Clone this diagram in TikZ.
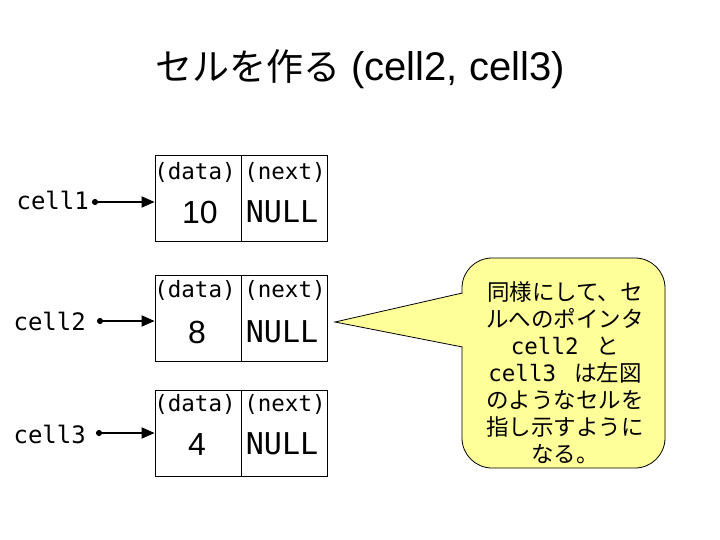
\documentclass[tikz,border=0pt]{standalone}
\usepackage{fontspec}
\setmainfont{Liberation Sans}
\newfontfamily\jp{Noto Sans CJK JP}
\newfontfamily\mono{DejaVu Sans Mono}
\usetikzlibrary{arrows.meta}
\definecolor{calloutfill}{RGB}{255,255,153}
\begin{document}
\begin{tikzpicture}[x=1pt,y=-1pt,
  half/.style={draw, minimum width=86pt, minimum height=86pt, inner sep=0pt, line width=0.8pt},
  small/.style={font=\mono\fontsize{22.5}{22.5}\selectfont, inner sep=0pt},
  val/.style={font=\fontsize{32}{32}\selectfont, inner sep=0pt},
  nullt/.style={font=\mono\fontsize{30}{30}\selectfont, inner sep=0pt},
  ptrlabel/.style={font=\mono\fontsize{24}{24}\selectfont, inner sep=0pt},
  arr/.style={line width=1.8pt, {Circle[length=6pt]}-{Triangle[length=13pt,width=11pt]}},
  calloutbox/.style={draw, fill=calloutfill, rounded corners=30pt, line width=0.8pt,
    minimum width=203pt, minimum height=210pt, inner sep=0pt},
  callouttext/.style={align=center, font=\jp\fontsize{22.5}{27}\selectfont, inner sep=0pt}
]
\useasboundingbox (0,0) rectangle (720,540);
\fill[white] (0,0) rectangle (720,540);

% title
\node[font=\fontsize{40}{40}\selectfont] (title) at (360,69) {{\jp\fontsize{37}{37}\selectfont セルを作る} (cell2, cell3)};

% cells
\node[half] (d1) at (198,198) {};
\node[half] (n1) at (284,198) {};
\node[half] (d2) at (198,318) {};
\node[half] (n2) at (284,318) {};
\node[half] (d3) at (198,433) {};
\node[half] (n3) at (284,433) {};

\node[small] (dl1) at (195,172) {(data)};
\node[small] (nl1) at (285,172) {(next)};
\node[val] (v1) at (200,212) {10};
\node[nullt] (nu1) at (282,212) {NULL};

\node[small] (dl2) at (195,290) {(data)};
\node[small] (nl2) at (285,290) {(next)};
\node[val] (v2) at (197,332) {8};
\node[nullt] (nu2) at (282,332) {NULL};

\node[small] (dl3) at (195,404) {(data)};
\node[small] (nl3) at (285,404) {(next)};
\node[val] (v3) at (197,444) {4};
\node[nullt] (nu3) at (282,444) {NULL};

% pointers
\node[ptrlabel, anchor=east] (c1) at (89,200) {cell1};
\node[ptrlabel, anchor=east] (c2) at (86,321) {cell2};
\node[ptrlabel, anchor=east] (c3) at (86,434) {cell3};
\coordinate (p1) at (92,202);
\coordinate (p2) at (97,321);
\coordinate (p3) at (96,433);
\draw[arr] (p1) -- (p1 -| d1.west);
\draw[arr] (p2) -- (p2 -| d2.west);
\draw[arr] (p3) -- (p3 -| d3.west);

% callout
\node[calloutbox] (cb) at (563.5,363) {};
\coordinate (tip) at (335,322);
\coordinate (ca) at (462.4,293);
\coordinate (cc) at (462.4,347);
\fill[calloutfill] (tip) -- (464,293) -- (464,347) -- cycle;
\draw[line width=0.8pt] (ca) -- (tip) -- (cc);
\node[callouttext] (ct) at (565,373) {同様にして、セ\\ルへのポインタ\\{\mono cell2}\hspace{0.8em}と\\{\mono cell3}\hspace{0.8em}は左図\\のようなセルを\\指し示すように\\なる。};
\end{tikzpicture}
\end{document}
